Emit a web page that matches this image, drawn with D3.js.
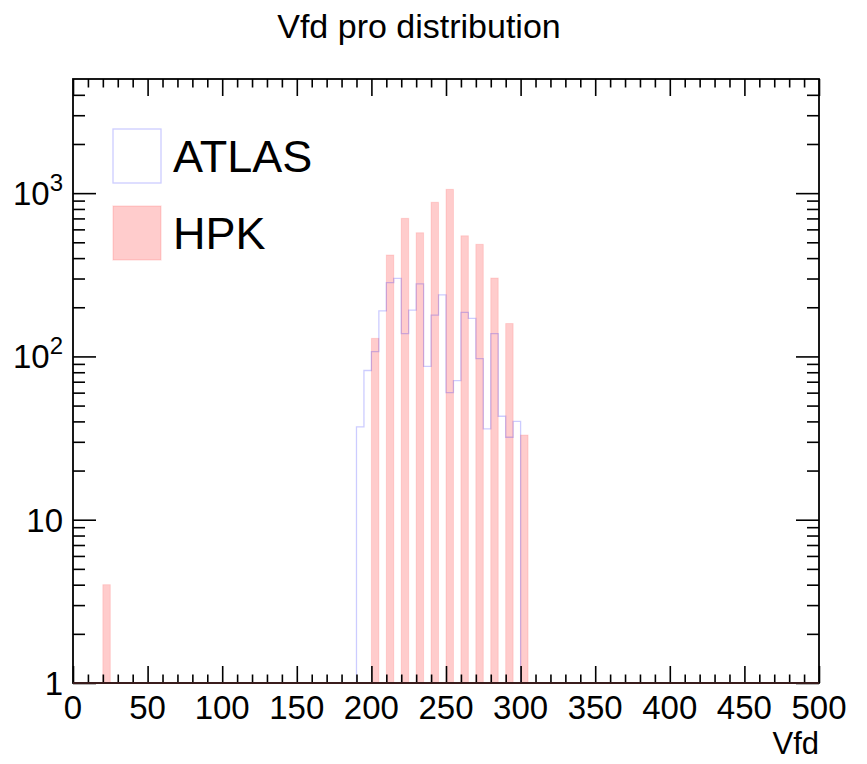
<!DOCTYPE html>
<html>
<head>
<meta charset="utf-8">
<script src="https://cdn.jsdelivr.net/npm/d3@7"></script>
<style>
  body { margin: 0; background: #fff; }
  text { font-family: "Liberation Sans", Arial, Helvetica, sans-serif; fill: #000; }
</style>
</head>
<body>
<div id="chart"></div>
<script>
// ATLAS histogram: lower bin edges (bin width 5) and counts
const atlasBins = [190, 195, 200, 205, 210, 215, 220, 225, 230, 235, 240, 245,
                   250, 255, 260, 265, 270, 275, 280, 285, 290, 295];
const atlasCounts = [37, 82, 107, 190, 283, 301, 138, 192, 278, 87, 179, 238,
                     60, 71, 186, 171, 97, 36, 138, 43, 32, 40];

// HPK histogram: lower bin edges and counts
const hpkBins = [20, 200, 210, 220, 230, 240, 250, 260, 270, 280, 290, 300];
const hpkCounts = [4, 129, 418, 701, 572, 879, 1055, 548, 486, 302, 159, 33];

const xTicks = [0, 50, 100, 150, 200, 250, 300, 350, 400, 450, 500];
const yTicks = [1, 10, 100, 1000];
const legendNames = ['ATLAS', 'HPK'];

class HistoVis {

  constructor(_config) {
    this.config = {
      parentElement: _config.parentElement,
      containerWidth: 867,
      containerHeight: 764,
      binWidth: 5,
      margin: {top: 79, right: 48, bottom: 81, left: 73},
      xDomain: [0, 500],
      yDomain: [1, 5000]
    }
    this.initVis();
  }

  initVis() {
    let vis = this;

    vis.config.width = vis.config.containerWidth - vis.config.margin.left - vis.config.margin.right;
    vis.config.height = vis.config.containerHeight - vis.config.margin.top - vis.config.margin.bottom;

    vis.svg = d3.select(vis.config.parentElement).append('svg')
        .attr('width', vis.config.containerWidth)
        .attr('height', vis.config.containerHeight);

    vis.chart = vis.svg.append('g')
        .attr('transform', `translate(${vis.config.margin.left},${vis.config.margin.top})`);

    vis.xScale = d3.scaleLinear()
        .domain(vis.config.xDomain)
        .range([0, vis.config.width]);

    vis.yScale = d3.scaleLog()
        .domain(vis.config.yDomain)
        .range([vis.config.height, 0]);

    vis.renderVis();
  }

  renderVis() {
    let vis = this;
    const bw = vis.config.binWidth;
    const h = vis.config.height;

    // HPK filled bars
    const hpk = hpkBins.map((b, i) => ({x0: b, value: hpkCounts[i]}));
    vis.chart.selectAll('.hpk')
        .data(hpk)
      .join('rect')
        .attr('class', 'hpk')
        .attr('x', d => vis.xScale(d.x0))
        .attr('width', d => vis.xScale(d.x0 + bw) - vis.xScale(d.x0))
        .attr('y', d => vis.yScale(d.value))
        .attr('height', d => h - vis.yScale(d.value))
        .attr('fill', '#ff0000')
        .attr('fill-opacity', 0.2)
        .attr('stroke', '#ff0000')
        .attr('stroke-opacity', 0.12)
        .attr('stroke-width', 1);

    // ATLAS outline step histogram
    const steps = [[atlasBins[0], vis.config.yDomain[0]]];
    atlasBins.forEach((b, i) => {
      steps.push([b, atlasCounts[i]]);
      steps.push([b + bw, atlasCounts[i]]);
    });
    steps.push([atlasBins[atlasBins.length - 1] + bw, vis.config.yDomain[0]]);

    const line = d3.line()
        .x(d => vis.xScale(d[0]))
        .y(d => vis.yScale(d[1]));

    vis.chart.append('path')
        .datum(steps)
        .attr('d', line)
        .attr('fill', 'none')
        .attr('stroke', '#0000ff')
        .attr('stroke-opacity', 0.2)
        .attr('stroke-width', 1.3);

    // Axes: ticks on all four sides, pointing inwards
    const xMinor = d3.range(0, 501, 10).filter(v => v % 50 !== 0);
    const yMinor = [];
    [1, 10, 100, 1000].forEach(dec => {
      for (let k = 2; k <= 9; k++) if (dec * k < vis.config.yDomain[1]) yMinor.push(dec * k);
    });

    const axisStyle = g => {
      g.select('.domain').remove();
      g.selectAll('line').attr('stroke', '#000').attr('stroke-width', 1.6);
    };

    // bottom
    vis.chart.append('g')
        .attr('transform', `translate(0,${h})`)
        .call(d3.axisBottom(vis.xScale).tickValues(xTicks).tickSize(-17).tickFormat(''))
        .call(axisStyle);
    vis.chart.append('g')
        .attr('transform', `translate(0,${h})`)
        .call(d3.axisBottom(vis.xScale).tickValues(xMinor).tickSize(-8.5).tickFormat(''))
        .call(axisStyle);
    // top
    vis.chart.append('g')
        .call(d3.axisTop(vis.xScale).tickValues(xTicks).tickSize(-17).tickFormat(''))
        .call(axisStyle);
    vis.chart.append('g')
        .call(d3.axisTop(vis.xScale).tickValues(xMinor).tickSize(-8.5).tickFormat(''))
        .call(axisStyle);
    // left
    vis.chart.append('g')
        .call(d3.axisLeft(vis.yScale).tickValues(yTicks).tickSize(-23).tickFormat(''))
        .call(axisStyle);
    vis.chart.append('g')
        .call(d3.axisLeft(vis.yScale).tickValues(yMinor).tickSize(-12).tickFormat(''))
        .call(axisStyle);
    // right
    vis.chart.append('g')
        .attr('transform', `translate(${vis.config.width},0)`)
        .call(d3.axisRight(vis.yScale).tickValues(yTicks).tickSize(-23).tickFormat(''))
        .call(axisStyle);
    vis.chart.append('g')
        .attr('transform', `translate(${vis.config.width},0)`)
        .call(d3.axisRight(vis.yScale).tickValues(yMinor).tickSize(-12).tickFormat(''))
        .call(axisStyle);

    // frame
    vis.chart.append('rect')
        .attr('width', vis.config.width)
        .attr('height', h)
        .attr('fill', 'none')
        .attr('stroke', '#000')
        .attr('stroke-width', 1.8);
    vis.chart.append('line')
        .attr('x1', 0).attr('x2', vis.config.width)
        .attr('y1', h).attr('y2', h)
        .attr('stroke', '#3a1c1c')
        .attr('stroke-width', 1.8);

    // tick labels
    vis.chart.selectAll('.xlabel')
        .data(xTicks)
      .join('text')
        .attr('class', 'xlabel')
        .attr('x', d => vis.xScale(d))
        .attr('y', h + 36)
        .attr('text-anchor', 'middle')
        .style('font-size', '33px')
        .text(d => d);

    const ylab = vis.chart.selectAll('.ylabel')
        .data(yTicks)
      .join('text')
        .attr('class', 'ylabel')
        .attr('x', -10)
        .attr('y', d => vis.yScale(d) + 12)
        .attr('text-anchor', 'end')
        .style('font-size', '33px');
    ylab.each(function(d) {
      const t = d3.select(this);
      const exp = Math.round(Math.log10(d));
      if (exp < 2) {
        t.text(d);
      } else {
        t.append('tspan').text('10');
        t.append('tspan').attr('dy', -14).style('font-size', '24px').text(exp);
      }
    });

    // axis title
    vis.chart.append('text')
        .attr('x', vis.config.width)
        .attr('y', h + 71)
        .attr('text-anchor', 'end')
        .style('font-size', '31px')
        .text('Vfd');

    // plot title
    vis.svg.append('text')
        .attr('x', 419)
        .attr('y', 38)
        .attr('text-anchor', 'middle')
        .style('font-size', '34px')
        .text('Vfd pro distribution');

    // legend
    const legend = vis.svg.append('g')
        .attr('transform', 'translate(113,129)');
    const items = legend.selectAll('g')
        .data(legendNames)
      .join('g')
        .attr('transform', (d, i) => `translate(0,${i * 77})`);
    items.append('rect')
        .attr('width', 48)
        .attr('height', 54)
        .attr('fill', d => d === 'HPK' ? '#ff0000' : 'none')
        .attr('fill-opacity', 0.2)
        .attr('stroke', d => d === 'HPK' ? '#ff0000' : '#0000ff')
        .attr('stroke-opacity', d => d === 'HPK' ? 0.12 : 0.2)
        .attr('stroke-width', 1.3);
    items.append('text')
        .attr('x', 60)
        .attr('y', 43)
        .style('font-size', '45px')
        .text(d => d);
  }
}

new HistoVis({parentElement: '#chart'});
</script>
</body>
</html>
